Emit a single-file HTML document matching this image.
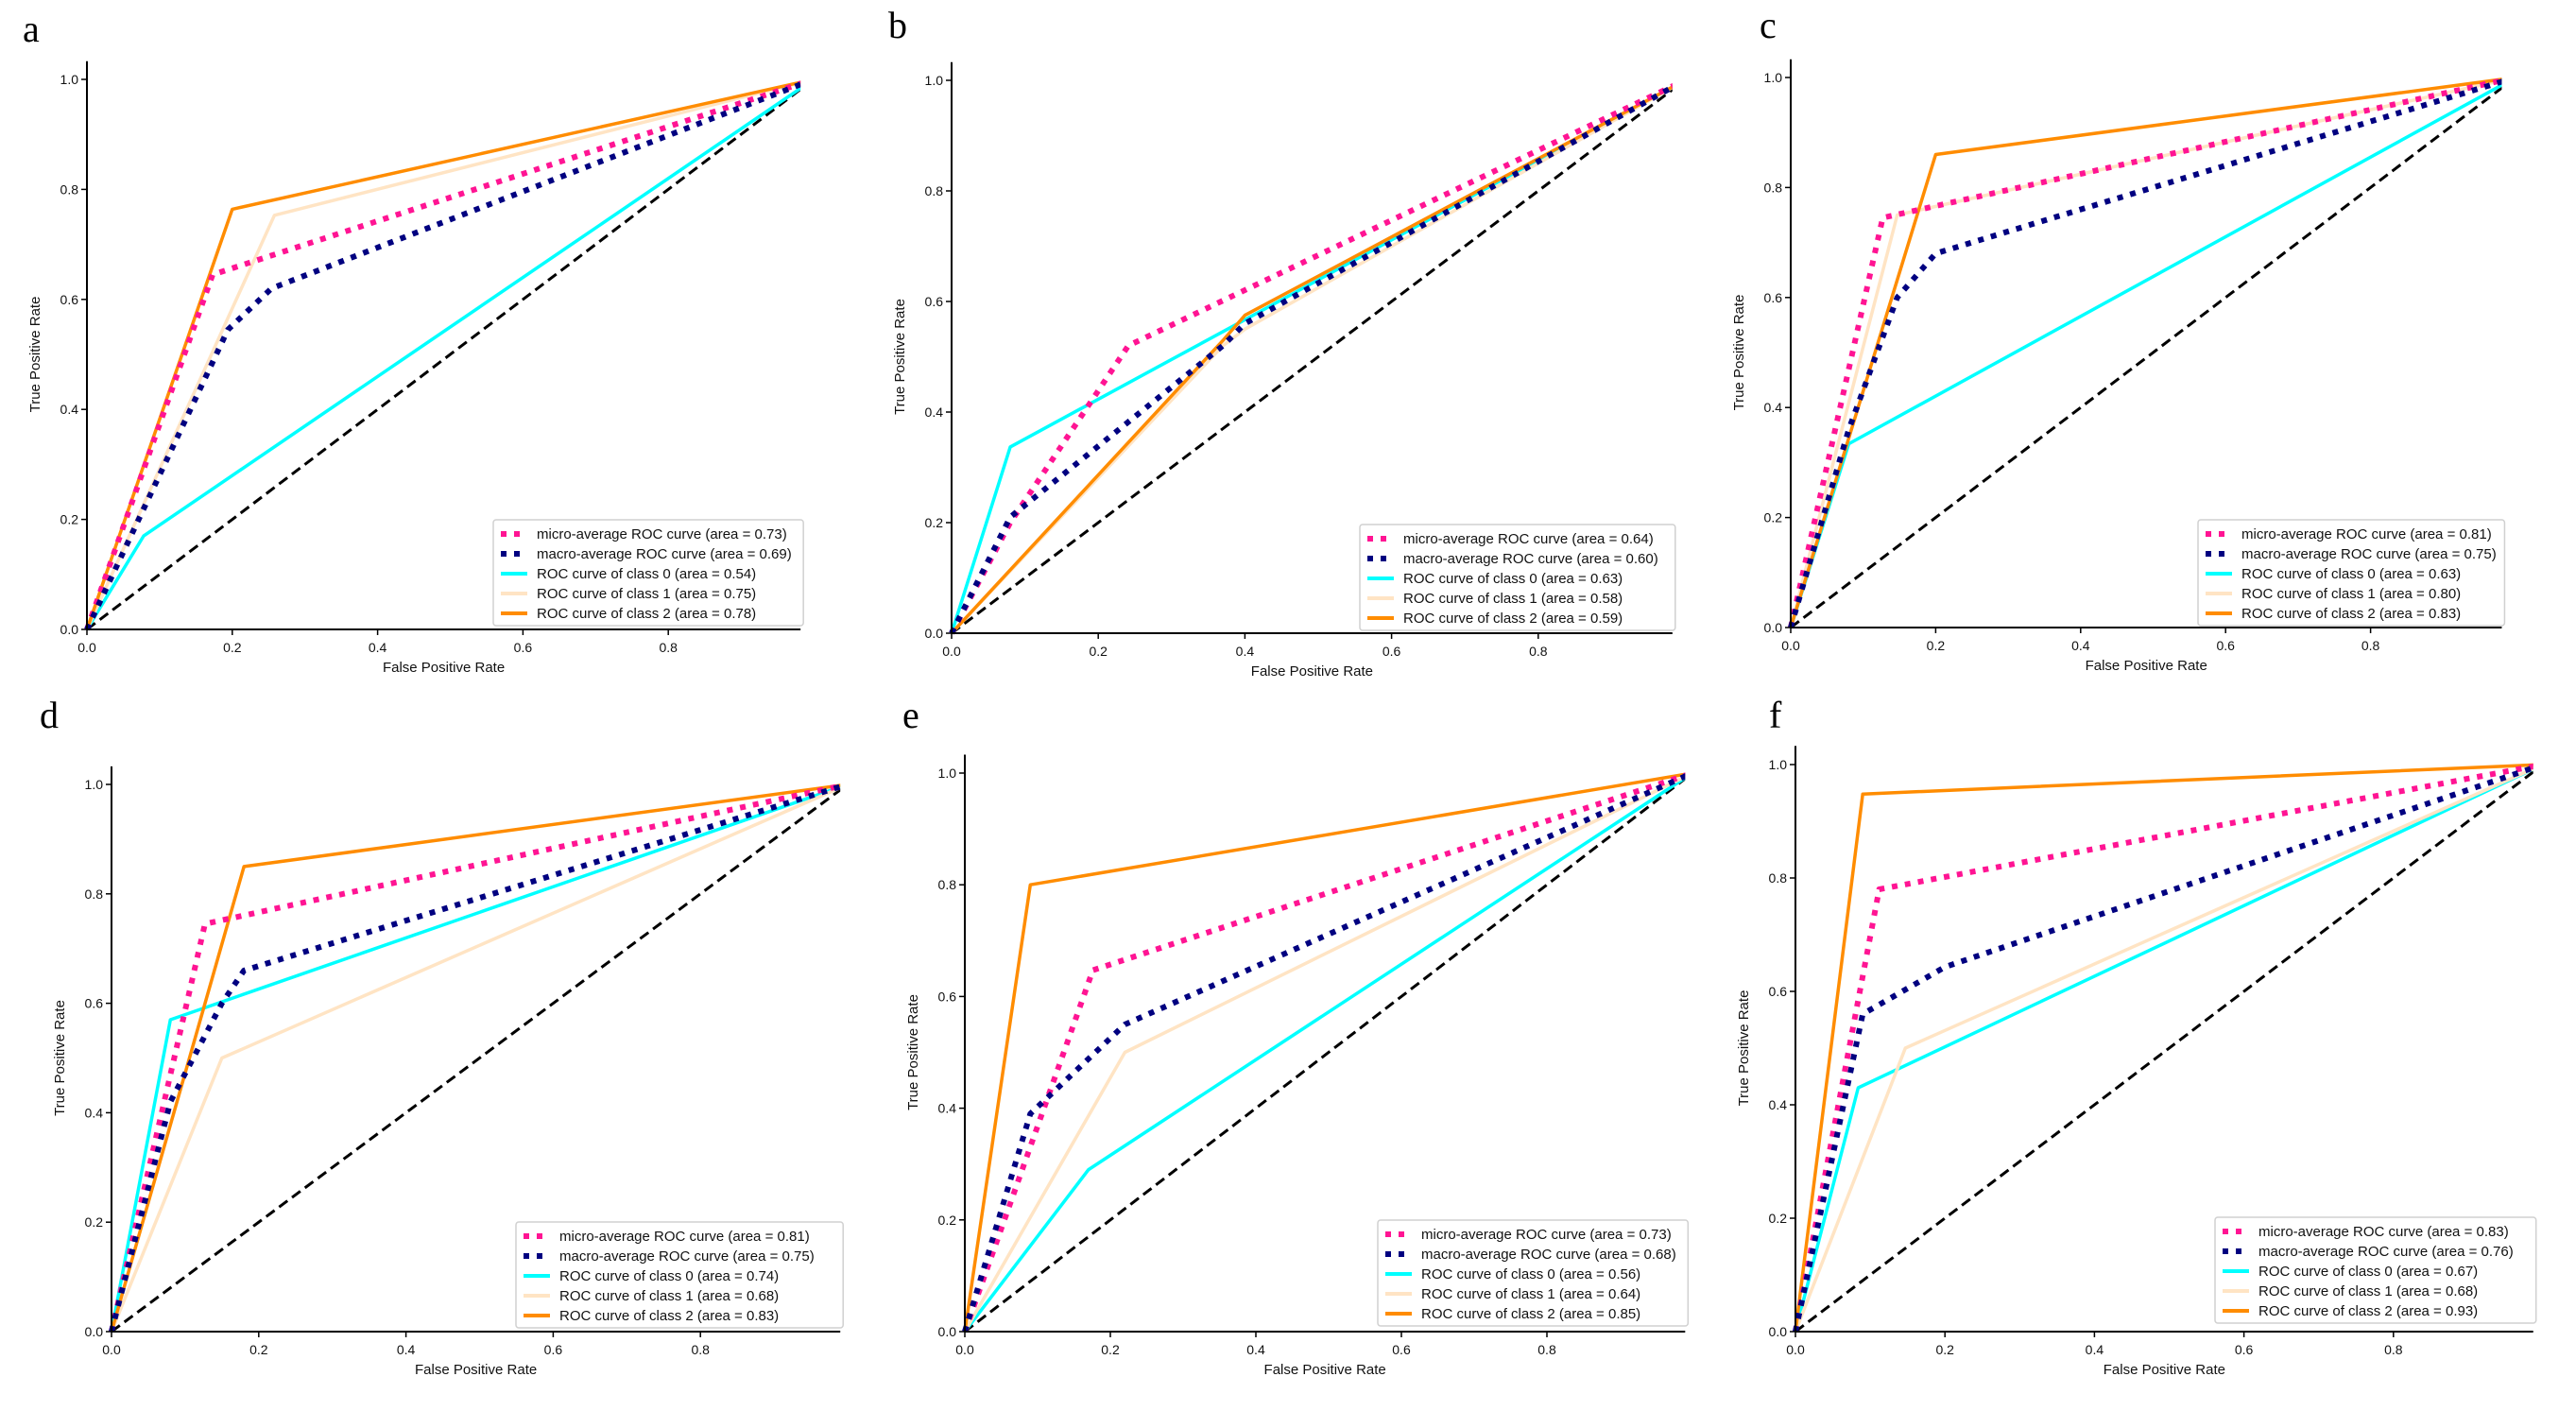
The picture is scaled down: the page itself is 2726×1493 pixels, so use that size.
<!DOCTYPE html>
<html><head><meta charset="utf-8"><style>
html,body{margin:0;padding:0;background:#fff;}
svg{display:block;font-family:"Liberation Sans","DejaVu Sans",sans-serif;}
</style></head>
<body>
<svg id="fig" width="2726" height="1493" viewBox="0 0 2726 1493" xmlns="http://www.w3.org/2000/svg"></svg>
<script>
// ---- data (FPR / TPR breakpoints per panel and series) ----
const seriesNames = ["micro","macro","class0","class1","class2"];
const legendLabels = ["micro-average ROC curve","macro-average ROC curve","ROC curve of class 0","ROC curve of class 1","ROC curve of class 2"];
const xTicks = [0,0.2,0.4,0.6,0.8];
const yTicks = [0,0.2,0.4,0.6,0.8,1.0];
const tickLabelsX = ["0.0","0.2","0.4","0.6","0.8"];
const tickLabelsY = ["0.0","0.2","0.4","0.6","0.8","1.0"];

const a_micro_fpr=[0,0.173,1], a_micro_tpr=[0,0.645,1];
const a_macro_fpr=[0,0.194,0.254,1], a_macro_tpr=[0,0.545,0.62,1];
const a_c0_fpr=[0,0.078,1], a_c0_tpr=[0,0.17,1];
const a_c1_fpr=[0,0.258,1], a_c1_tpr=[0,0.753,1];
const a_c2_fpr=[0,0.2,1], a_c2_tpr=[0,0.764,1];
const a_areas=["0.73","0.69","0.54","0.75","0.78"];

const b_micro_fpr=[0,0.08,0.241,1], b_micro_tpr=[0,0.2,0.52,1];
const b_macro_fpr=[0,0.08,0.37,0.4,1], b_macro_tpr=[0,0.21,0.52,0.56,1];
const b_c0_fpr=[0,0.08,0.4,1], b_c0_tpr=[0,0.337,0.567,1];
const b_c1_fpr=[0,0.37,0.4,1], b_c1_tpr=[0,0.52,0.55,1];
const b_c2_fpr=[0,0.371,0.4,1], b_c2_tpr=[0,0.531,0.575,1];
const b_areas=["0.64","0.60","0.63","0.58","0.59"];

const c_micro_fpr=[0,0.127,1], c_micro_tpr=[0,0.745,1];
const c_macro_fpr=[0,0.08,0.147,0.2,1], c_macro_tpr=[0,0.36,0.6,0.68,1];
const c_c0_fpr=[0,0.08,1], c_c0_tpr=[0,0.334,1];
const c_c1_fpr=[0,0.147,1], c_c1_tpr=[0,0.75,1];
const c_c2_fpr=[0,0.2,1], c_c2_tpr=[0,0.86,1];
const c_areas=["0.81","0.75","0.63","0.80","0.83"];

const d_micro_fpr=[0,0.127,1], d_micro_tpr=[0,0.745,1];
const d_macro_fpr=[0,0.08,0.15,0.18,1], d_macro_tpr=[0,0.42,0.6,0.66,1];
const d_c0_fpr=[0,0.08,1], d_c0_tpr=[0,0.57,1];
const d_c1_fpr=[0,0.15,1], d_c1_tpr=[0,0.5,1];
const d_c2_fpr=[0,0.18,1], d_c2_tpr=[0,0.85,1];
const d_areas=["0.81","0.75","0.74","0.68","0.83"];

const e_micro_fpr=[0,0.176,1], e_micro_tpr=[0,0.647,1];
const e_macro_fpr=[0,0.09,0.22,1], e_macro_tpr=[0,0.39,0.55,1];
const e_c0_fpr=[0,0.17,1], e_c0_tpr=[0,0.29,1];
const e_c1_fpr=[0,0.22,1], e_c1_tpr=[0,0.5,1];
const e_c2_fpr=[0,0.09,1], e_c2_tpr=[0,0.8,1];
const e_areas=["0.73","0.68","0.56","0.64","0.85"];

const f_micro_fpr=[0,0.112,1], f_micro_tpr=[0,0.78,1];
const f_macro_fpr=[0,0.09,0.2,1], f_macro_tpr=[0,0.56,0.643,1];
const f_c0_fpr=[0,0.084,1], f_c0_tpr=[0,0.43,1];
const f_c1_fpr=[0,0.147,1], f_c1_tpr=[0,0.5,1];
const f_c2_fpr=[0,0.09,1], f_c2_tpr=[0,0.948,1];
const f_areas=["0.83","0.76","0.67","0.68","0.93"];

// ---- layout (pixels) ----
const panels = [
 {id:"a", ox:92, oy:666, sx:769, sy:582, xmax:0.982, lx:522, ly:550, letterX:24, letterY:44,
  fpr:[a_micro_fpr,a_macro_fpr,a_c0_fpr,a_c1_fpr,a_c2_fpr], tpr:[a_micro_tpr,a_macro_tpr,a_c0_tpr,a_c1_tpr,a_c2_tpr], areas:a_areas},
 {id:"b", ox:1007, oy:670, sx:776, sy:585, xmax:0.983, lx:1439, ly:555, letterX:940, letterY:40,
  fpr:[b_micro_fpr,b_macro_fpr,b_c0_fpr,b_c1_fpr,b_c2_fpr], tpr:[b_micro_tpr,b_macro_tpr,b_c0_tpr,b_c1_tpr,b_c2_tpr], areas:b_areas},
 {id:"c", ox:1895, oy:664, sx:767, sy:582, xmax:0.981, lx:2326, ly:550, letterX:1862, letterY:40,
  fpr:[c_micro_fpr,c_macro_fpr,c_c0_fpr,c_c1_fpr,c_c2_fpr], tpr:[c_micro_tpr,c_macro_tpr,c_c0_tpr,c_c1_tpr,c_c2_tpr], areas:c_areas},
 {id:"d", ox:118, oy:1409, sx:779, sy:579, xmax:0.99, lx:546, ly:1293, letterX:42, letterY:770,
  fpr:[d_micro_fpr,d_macro_fpr,d_c0_fpr,d_c1_fpr,d_c2_fpr], tpr:[d_micro_tpr,d_macro_tpr,d_c0_tpr,d_c1_tpr,d_c2_tpr], areas:d_areas},
 {id:"e", ox:1021, oy:1409, sx:770, sy:591, xmax:0.99, lx:1458, ly:1291, letterX:955, letterY:770,
  fpr:[e_micro_fpr,e_macro_fpr,e_c0_fpr,e_c1_fpr,e_c2_fpr], tpr:[e_micro_tpr,e_macro_tpr,e_c0_tpr,e_c1_tpr,e_c2_tpr], areas:e_areas},
 {id:"f", ox:1900, oy:1409, sx:791, sy:600, xmax:0.987, lx:2344, ly:1288, letterX:1872, letterY:770,
  fpr:[f_micro_fpr,f_macro_fpr,f_c0_fpr,f_c1_fpr,f_c2_fpr], tpr:[f_micro_tpr,f_macro_tpr,f_c0_tpr,f_c1_tpr,f_c2_tpr], areas:f_areas}
];
const styles = [
 {color:"#ff1493", w:6, dash:"6 8"},
 {color:"#000080", w:6, dash:"6 8"},
 {color:"#00ffff", w:3.5, dash:null},
 {color:"#ffe4c4", w:3.5, dash:null},
 {color:"#ff8c00", w:3.5, dash:null}
];
const NS="http://www.w3.org/2000/svg";
const svg=document.getElementById("fig");
function mk(tag, attrs, parent){
  const el=document.createElementNS(NS,tag);
  for(const k in attrs) el.setAttribute(k,attrs[k]);
  (parent||svg).appendChild(el);
  return el;
}
const defs=mk("defs",{});
panels.forEach(p=>{
  const X=v=>p.ox+v*p.sx;
  const Y=v=>p.oy-v*p.sy;
  const g=mk("g",{});
  
  
  const cp=mk("clipPath",{id:"clip-"+p.id},defs);
  mk("rect",{x:X(0)-4,y:Y(1.03),width:X(p.xmax)-X(0)+4,height:Y(0)-Y(1.03)+4},cp);

  const letter=mk("text",{x:p.letterX,y:p.letterY,"font-family":"Liberation Serif, serif","font-size":40,fill:"#000"},g);
  letter.textContent=p.id;
  
  

  const plot=mk("g",{"clip-path":"url(#clip-"+p.id+")"},g);
  
  
  const diag=mk("line",{x1:X(0),y1:Y(0),x2:X(1),y2:Y(1),stroke:"#000","stroke-width":3,"stroke-dasharray":"11 6"},plot);
  
  
  // draw class curves first, then averages on top
  [2,3,4,0,1].forEach(i=>{
    const xs=p.fpr[i], ys=p.tpr[i];
    const pts=xs.map((x,j)=>X(x).toFixed(1)+","+Y(ys[j]).toFixed(1)).join(" ");
    const st=styles[i];
    const a={points:pts,fill:"none",stroke:st.color,"stroke-width":st.w,"stroke-linejoin":"round"};
    if(st.dash) a["stroke-dasharray"]=st.dash;
    const pl=mk("polyline",a,plot);
    
    
  });

  // axes
  const xa=mk("line",{x1:X(0),y1:Y(0),x2:X(p.xmax),y2:Y(0),stroke:"#000","stroke-width":2},g);
  
  
  const ya=mk("line",{x1:X(0),y1:Y(0),x2:X(0),y2:Y(1.033),stroke:"#000","stroke-width":2},g);
  
  
  xTicks.forEach((v,i)=>{
    mk("line",{x1:X(v),y1:Y(0),x2:X(v),y2:Y(0)+6,stroke:"#000","stroke-width":1.5},g);
    const t=mk("text",{x:X(v),y:Y(0)+24,"text-anchor":"middle","font-size":14,fill:"#111"},g);
    t.textContent=tickLabelsX[i];
    
    
  });
  yTicks.forEach((v,i)=>{
    mk("line",{x1:X(0)-6,y1:Y(v),x2:X(0),y2:Y(v),stroke:"#000","stroke-width":1.5},g);
    const t=mk("text",{x:X(0)-9,y:Y(v)+5,"text-anchor":"end","font-size":14,fill:"#111"},g);
    t.textContent=tickLabelsY[i];
    
    
  });
  const xt=mk("text",{x:(X(0)+X(p.xmax))/2,y:Y(0)+45,"text-anchor":"middle","font-size":15,fill:"#111"},g);
  xt.textContent="False Positive Rate";
  
  
  const cy=(Y(0)+Y(1))/2;
  const yt=mk("text",{x:X(0)-50,y:cy,"text-anchor":"middle","font-size":15,fill:"#111",transform:"rotate(-90 "+(X(0)-50)+" "+cy+")"},g);
  yt.textContent="True Positive Rate";
  
  

  // legend
  const right=X(p.xmax);
  const lg=mk("g",{},g);
  
  
  mk("rect",{x:p.lx,y:p.ly,width:right-p.lx+3,height:112,rx:3,fill:"#fff","fill-opacity":0.85,stroke:"#d0d0d0","stroke-width":1.5},lg);
  legendLabels.forEach((lab,i)=>{
    const ry=p.ly+15+i*21;
    const st=styles[i];
    const a={x1:p.lx+8,y1:ry,x2:p.lx+36,y2:ry,stroke:st.color,"stroke-width":st.dash?6:4};
    if(st.dash) a["stroke-dasharray"]="6 8";
    mk("line",a,lg);
    const t=mk("text",{x:p.lx+46,y:ry+5,"font-size":15,fill:"#111"},lg);
    t.textContent=lab+" (area = "+p.areas[i]+")";
    
    
  });
});
</script>
</body></html>
